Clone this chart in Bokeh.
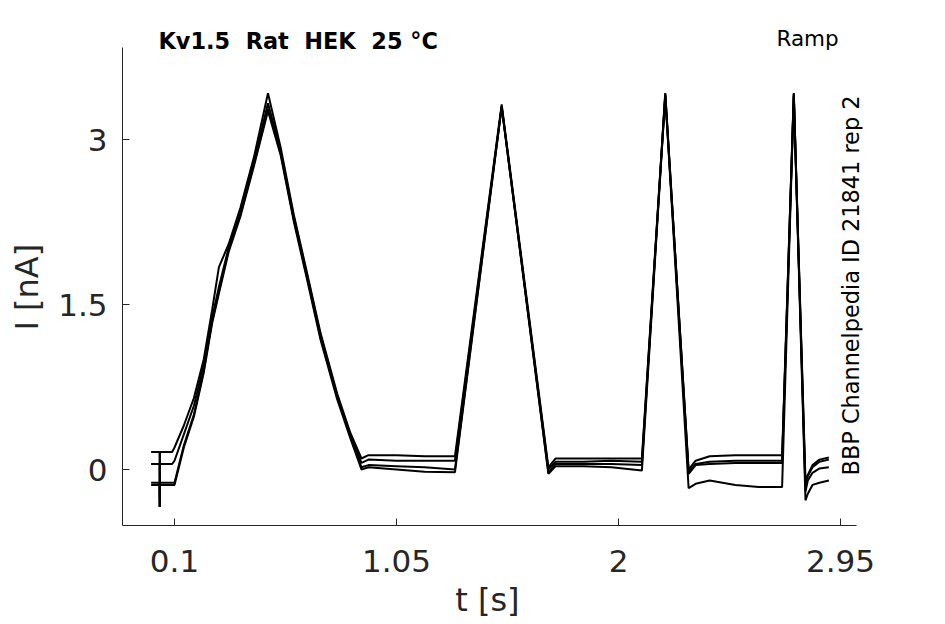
import math
from bokeh.plotting import figure
from bokeh.models import Range1d, FixedTicker, Label, Title
from bokeh.embed import file_html
from bokeh.resources import INLINE

# ---- data ----
t_s = [0.0, 0.036, 0.037, 0.038, 0.09, 0.1,
       0.14, 0.183, 0.225, 0.261, 0.29, 0.332, 0.382, 0.44, 0.5,
       0.554, 0.61, 0.668, 0.725, 0.796, 0.853, 0.9, 0.93,
       1.05, 1.17, 1.3,
       1.5, 1.7, 1.73,
       1.85, 1.97, 2.1,
       2.2, 2.3, 2.33, 2.39, 2.5, 2.6, 2.7,
       2.75, 2.8, 2.81, 2.83, 2.86, 2.9]

sweep_a = [0.16, 0.16, -0.34, 0.16, 0.16, 0.2,
           0.40, 0.65, 1.0, 1.45, 1.84, 2.05, 2.38, 2.84, 3.42,
           2.93, 2.32, 1.78, 1.24, 0.69, 0.33, 0.1, 0.13,
           0.13, 0.12, 0.12,
           3.32, 0.02, 0.1,
           0.1, 0.1, 0.1,
           3.42, 0.0, 0.08, 0.12, 0.13, 0.13, 0.13,
           3.42, -0.1, -0.05, 0.04, 0.09, 0.11]

sweep_b = [0.05, 0.05, -0.34, 0.05, 0.05, 0.08,
           0.32, 0.58, 0.95, 1.38, 1.66, 2.02, 2.33, 2.8, 3.33,
           2.9, 2.3, 1.76, 1.22, 0.67, 0.31, 0.06, 0.09,
           0.08, 0.08, 0.08,
           3.3, 0.0, 0.07,
           0.07, 0.08, 0.07,
           3.4, -0.02, 0.05, 0.07, 0.08, 0.08, 0.08,
           3.4, -0.15, -0.06, 0.02, 0.07, 0.09]

sweep_c = [-0.12, -0.12, -0.34, -0.12, -0.12, -0.12,
           0.22, 0.5, 0.9, 1.35, 1.62, 2.0, 2.32, 2.78, 3.28,
           2.88, 2.28, 1.74, 1.2, 0.66, 0.3, 0.02, 0.04,
           0.03, 0.02, 0.0,
           3.3, -0.03, 0.05,
           0.05, 0.05, 0.04,
           3.42, -0.04, 0.04, 0.05, 0.06, 0.06, 0.06,
           3.42, -0.2, -0.1, -0.03, 0.01, 0.02]

sweep_d = [-0.14, -0.14, -0.34, -0.14, -0.14, -0.14,
           0.2, 0.48, 0.88, 1.33, 1.6, 1.98, 2.3, 2.76, 3.26,
           2.86, 2.26, 1.72, 1.18, 0.64, 0.28, 0.0, 0.02,
           0.0, -0.02, -0.025,
           3.3, -0.04, 0.03,
           0.03, 0.02, -0.01,
           3.4, -0.17, -0.13, -0.1, -0.14, -0.16, -0.16,
           3.4, -0.28, -0.22, -0.14, -0.12, -0.1]

sweeps = [sweep_a, sweep_b, sweep_c, sweep_d]

x_ticks = [0.1, 1.05, 2, 2.95]
x_tick_labels = ["0.1", "1.05", "2", "2.95"]
y_ticks = [0, 1.5, 3]
y_tick_labels = ["0", "1.5", "3"]
x_axis_span = (-0.1225, 3.018)
y_axis_span = (-0.509, 3.836)

# double spaces kept visible in SVG with a no-break space
title_text = "Kv1.5 \u00a0Rat \u00a0HEK \u00a025 °C"
protocol_text = "Ramp"
source_text = "BBP Channelpedia ID 21841 rep 2"
x_label = "t [s]"
y_label = "I [nA]"

FONT = "DejaVu Sans"
TXT = "#262626"

# frame extends above/right of the axes so that the annotations are not clipped
p = figure(width=929, height=622, output_backend="svg", toolbar_location=None,
           x_range=Range1d(x_axis_span[0], 3.044), y_range=Range1d(y_axis_span[0], 4.082),
           min_border_left=122, min_border_right=67, min_border_top=20,
           min_border_bottom=97)
p.outline_line_color = None
p.xgrid.grid_line_color = None
p.ygrid.grid_line_color = None
p.background_fill_color = "white"
p.border_fill_color = "white"

for s in sweeps:
    p.line(t_s, s, line_color="black", line_width=2)

for ax, ticks, labels, span in ((p.xaxis[0], x_ticks, x_tick_labels, x_axis_span),
                                (p.yaxis[0], y_ticks, y_tick_labels, y_axis_span)):
    ax.ticker = FixedTicker(ticks=ticks)
    ax.bounds = span
    ax.major_label_overrides = {tk: lb for tk, lb in zip(ticks, labels)}
    ax.major_tick_in = 7
    ax.major_tick_out = 0
    ax.minor_tick_line_color = None
    ax.axis_line_color = TXT
    ax.major_tick_line_color = TXT
    ax.major_label_text_font = FONT
    ax.major_label_text_font_size = "31px"
    ax.major_label_text_color = TXT

p.xaxis[0].major_label_standoff = 24
p.yaxis[0].major_label_standoff = 15

# x label: trailing no-break space nudges the frame-centred label onto the axis centre
xa = p.xaxis[0]
xa.axis_label = x_label + "\u00a0"
xa.axis_label_standoff = 6
xa.axis_label_text_font = FONT
xa.axis_label_text_font_size = "32px"
xa.axis_label_text_font_style = "normal"
xa.axis_label_text_color = TXT

# y label placed as a side title so it can sit on the axis centre
p.add_layout(Title(text=y_label, align="left", offset=195, vertical_align="top", standoff=15,
                   text_font=FONT, text_font_size="32px", text_font_style="normal",
                   text_color=TXT), "left")

p.add_layout(Label(x=0.0315, y=3.9, text=title_text, text_font=FONT, text_font_size="22.4px",
                   text_font_style="bold", text_color="black", text_align="left",
                   text_baseline="middle"))
p.add_layout(Label(x=2.809, y=3.918, text=protocol_text, text_font=FONT, text_font_size="21.5px",
                   text_color="black", text_align="center", text_baseline="middle"))
p.add_layout(Label(x=2.995, y=1.673, text=source_text, text_font=FONT, text_font_size="22.4px",
                   text_color="black", text_align="center", text_baseline="middle",
                   angle=math.pi / 2))

open("out.html", "w").write(file_html(p, INLINE))
